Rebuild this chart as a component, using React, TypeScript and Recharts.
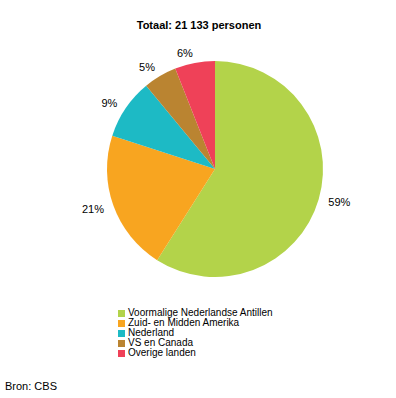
import { PieChart, Pie, Cell } from 'recharts'

const categories = [
  'Voormalige Nederlandse Antillen',
  'Zuid- en Midden Amerika',
  'Nederland',
  'VS en Canada',
  'Overige landen',
]
const shares = [59, 21, 9, 5, 6]
const colors = ['#B3D34A', '#F8A520', '#1DBAC5', '#BA8431', '#EF4158']

const title = 'Totaal: 21 133 personen'
const source = 'Bron: CBS'

const data = categories.map((name, i) => ({ name, value: shares[i], color: colors[i] }))

const FONT = 'Arial, "Liberation Sans", sans-serif'

const renderLabel = ({ cx, cy, midAngle, outerRadius, value }: any) => {
  const RAD = Math.PI / 180
  const r = outerRadius + 10
  const x = cx + r * Math.cos(-midAngle * RAD)
  const y = cy + r * Math.sin(-midAngle * RAD)
  return (
    <text
      x={x}
      y={y}
      fill="#000"
      fontSize={11}
      fontFamily={FONT}
      textAnchor={x > cx ? 'start' : 'end'}
      dominantBaseline="central"
    >
      {`${value}%`}
    </text>
  )
}

export default function App() {
  return (
    <div style={{ position: 'absolute', left: 0, top: 0, width: 396, height: 398, background: '#fff', fontFamily: FONT }}>
      <div style={{ position: 'absolute', left: 0, top: 19, width: 398, textAlign: 'center', fontSize: 11, fontWeight: 'bold' }}>
        {title}
      </div>
      <PieChart width={396} height={398} margin={{ top: 0, right: 0, bottom: 0, left: 0 }}>
        <Pie
          data={data}
          dataKey="value"
          cx={215}
          cy={169}
          outerRadius={108}
          startAngle={90}
          endAngle={-270}
          stroke="none"
          labelLine={false}
          label={renderLabel}
          isAnimationActive={false}
        >
          {data.map((entry, index) => (
            <Cell key={`cell-${index}`} fill={entry.color} />
          ))}
        </Pie>
      </PieChart>
      <div style={{ position: 'absolute', left: 118, top: 308 }}>
        {data.map((d) => (
          <div key={d.name} style={{ display: 'flex', alignItems: 'center', height: 10, fontSize: 10, lineHeight: '10px' }}>
            <span style={{ display: 'inline-block', width: 7, height: 7, background: d.color, marginRight: 3 }} />
            <span style={{ whiteSpace: 'nowrap' }}>{d.name}</span>
          </div>
        ))}
      </div>
      <div style={{ position: 'absolute', left: 5, top: 380, fontSize: 11 }}>{source}</div>
    </div>
  )
}
